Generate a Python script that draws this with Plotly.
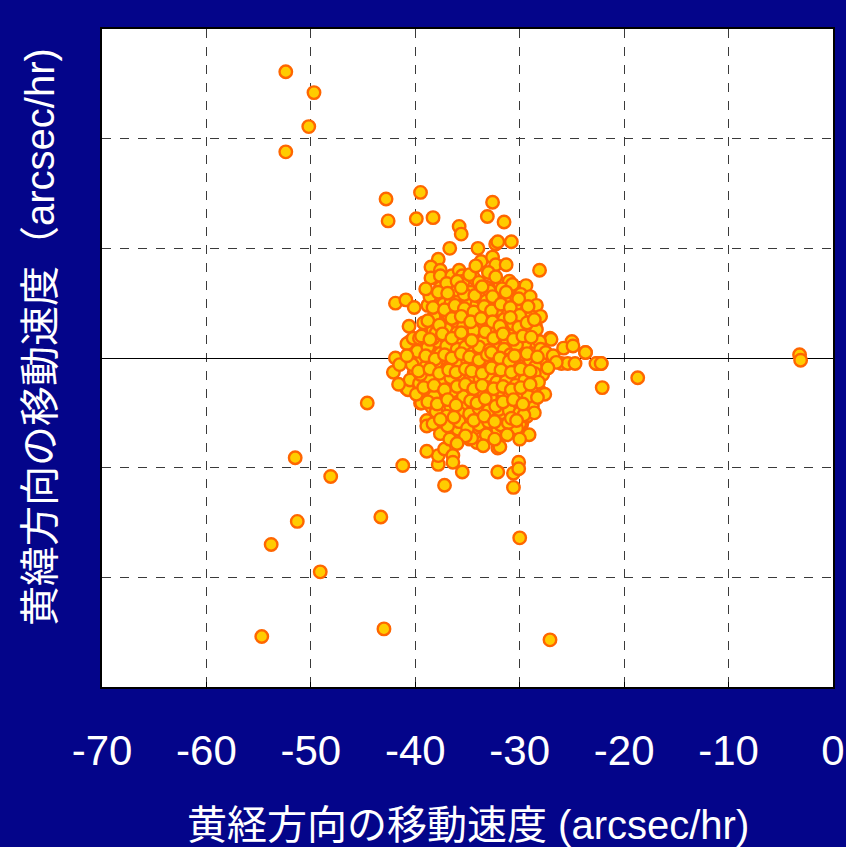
import plotly.graph_objects as go

# Ecliptic longitude / latitude motion (arcsec/hr)
x_outer = [-52.4, -49.7, -50.2, -52.4, -42.8, -39.5, -42.6, -39.9, -38.3, -35.8, -35.6, -32.6, -33.1, -31.5,
           -30.8, -32.3, -32.1, -36.7, -34.0, -28.1, -23.7, -22.6, -22.2, -22.1, -18.7, -3.2, -3.1,
           -44.6, -51.5, -48.1, -51.3, -53.8, -49.1, -43.3, -54.7, -43.0, -27.1, -30.0,
           -41.2, -37.2, -30.6, -30.6, -30.1, -32.1, -35.5, -37.8, -37.8, -37.2, -36.4, -36.4, -38.9,
           -32.1, -31.9, -30.1, -29.1]
y_outer = [26.1, 24.2, 21.1, 18.8, 14.5, 15.1, 12.5, 12.7, 12.8, 12.0, 11.3, 14.2, 12.9, 12.4,
           10.6, 10.4, 10.6, 10.0, 10.0, 8.0, 0.5, -0.5, -0.5, -2.7, -1.8, 0.3, -0.2,
           -4.1, -9.1, -10.8, -14.9, -17.0, -19.5, -14.5, -25.4, -24.7, -25.7, -16.4,
           -9.8, -11.6, -11.8, -10.5, -9.5, -10.4, -10.4, -9.7, -8.9, -8.3, -8.9, -9.5, -8.5,
           -8.2, -8.1, -10.1, -7.0]

x_mid = [-38.9, -38.9, -37.6, -36.7, -35.9, -34.8, -34.1, -34.3, -34.6, -32.6, -32.1, -31.4, -30.5, -29.8,
         -30.0, -30.3, -33.5, -32.8, -31.7, -30.6,
         -41.9, -40.9, -40.1, -40.6, -40.5, -40.8, -41.9, -42.1, -40.1, -39.4, -40.9, -40.7, -39.5, -38.6,
         -37.6, -36.7, -35.7, -39.4, -38.4, -37.4, -36.6, -35.2, -33.8, -32.6, -31.4, -30.2, -28.8, -31.2,
         -38.9, -37.8, -37.0, -36.1, -35.0, -34.1, -32.9, -31.7, -30.7, -29.7, -28.0, -27.6, -28.8, -27.8,
         -39.4, -38.4, -37.3, -36.2, -35.5, -34.6, -33.3, -32.3, -31.7, -30.6, -29.0, -30.0, -40.0, -39.1,
         -38.3, -37.2, -28.0, -28.7, -30.0, -31.9, -30.6,
         -39.3, -37.9, -36.7, -35.7, -34.1, -32.8, -31.6, -30.3, -28.7, -28.8,
         -27.1, -25.0, -27.0, -25.8, -24.9, -23.7, -22.7, -22.2, -26.0, -25.4, -24.7, -28.1,
         -33.7, -32.6, -32.3, -31.3, -37.8, -38.5, -37.6, -38.5, -37.6, -36.5, -35.8, -35.5, -35.4, -34.4,
         -33.0, -32.1, -33.3, -37.6, -31.9,
         -37.4, -37.3, -36.0, -35.0, -34.1, -33.5, -32.6, -31.4, -31.1, -30.3, -29.5,
         -38.1, -36.4, -35.5, -34.4, -33.2, -32.1, -30.9, -30.2, -29.1, -31.2,
         -38.3, -36.9, -36.2, -35.0, -33.8, -32.4, -31.4, -30.5, -29.3,
         -40.2, -38.3, -37.2, -35.9, -34.8]
y_mid = [-5.7, -6.2, -6.9, -7.4, -6.5, -7.4, -7.7, -6.4, -7.3, -6.5, -6.5, -6.4, -6.2, -6.0,
         -6.0, -6.4, -5.5, -5.4, -5.4, -5.4,
         5.0, 5.3, 4.6, 2.9, 1.5, 1.3, 0.0, -1.3, -1.3, -0.3, -2.7, -2.9, -4.1, -3.7,
         -3.9, -4.5, -3.7, -4.1, -4.5, -4.6, -4.5, -4.3, -4.1, -3.9, -4.1, -4.1, -4.3, -4.1,
         -2.8, -3.2, -3.2, -2.1, -2.8, -3.3, -2.4, -3.0, -3.3, -2.5, -3.1, -3.3, -4.4, -1.5,
         -0.2, 0.6, -0.5, 0.2, -0.7, -1.5, 0.0, 1.3, -1.2, -1.8, -1.0, 0.8, -1.2, -1.5,
         -1.5, -1.5, -0.3, 0.6, -1.8, -1.8, -0.5,
         1.1, 1.5, 1.5, 1.8, 2.0, 1.8, 2.3, 1.8, 1.5, 2.3,
         1.8, 1.5, 1.7, 0.9, 1.1, 0.5, -0.5, -0.5, -0.5, -0.5, -0.5, 1.5,
         8.8, 9.2, 8.5, 8.5, 9.0, 8.3, 8.0, 7.3, 7.5, 7.5, 8.0, 7.5, 7.0, 7.3,
         7.8, 6.9, 6.5, 6.4, 6.8,
         5.5, 4.9, 5.5, 5.3, 4.9, 4.5, 5.5, 5.9, 5.5, 5.5, 5.0,
         3.6, 4.3, 4.5, 3.6, 3.6, 3.7, 4.3, 3.7, 3.7, 4.3,
         2.6, 3.1, 3.4, 2.6, 2.7, 2.9, 2.5, 2.7, 2.5,
         1.8, 1.8, 2.0, 1.8, 2.0]

x_core = [-36.0, -34.7, -33.9, -32.9, -31.0, -30.2, -29.4, -35.3,
          -38.8, -37.8, -36.8, -35.9, -35.0, -34.0, -33.0, -32.2, -31.5, -30.6, -29.8, -28.9, -28.5,
          -39.2, -38.0, -37.0, -36.0, -35.4, -34.4, -33.5, -32.9, -32.0, -31.2, -30.0, -29.5, -28.4, -28.0,
          -39.8, -38.8, -37.6, -37.0, -36.0, -35.2, -34.5, -33.9, -32.9, -32.3, -31.5, -30.9, -30.3, -29.6,
          -29.0, -28.5, -27.5, -26.8, -26.5,
          -40.3, -39.0, -38.0, -36.8, -36.0, -35.0, -34.2, -33.6, -33.0, -32.2, -31.3, -30.2, -29.5, -28.6, -27.3,
          -40.5, -39.6, -38.6, -37.5, -36.6, -35.6, -34.8, -33.8, -33.0, -32.2, -31.3, -30.4, -29.5, -28.8, -28.2,
          -39.9, -38.2, -36.4, -35.4, -34.6, -33.5, -32.8, -31.0, -30.0, -29.2, -28.3,
          -38.0, -37.0, -35.8, -34.8, -33.9, -33.0, -32.0, -31.0, -30.0, -29.3, -28.6,
          -38.3, -36.9, -35.8, -35.0, -33.9, -33.0, -31.8, -31.1, -29.6,
          -35.2, -33.2, -32.4, -31.2, -30.0, -36.0, -33.5,
          -37.0, -36.0, -34.8, -33.9, -32.3, -31.7, -30.7, -29.9, -29.0, -28.4, -28.0,
          -38.6, -39.0, -36.6, -33.2, -32.0, -30.4,
          -41.6, -41.5, -40.8, -39.6, -39.5, -38.2, -37.8, -34.2]
y_core = [6.2, 6.0, 5.6, 6.1, 7.0, 6.3, 6.6, 5.8,
          4.8, 4.2, 3.9, 3.2, 4.0, 3.1, 4.0, 4.4, 3.5, 3.1, 4.4, 4.2, 3.0,
          3.2, 2.3, 2.6, 2.3, 2.9, 2.5, 1.5, 2.8, 1.9, 1.5, 2.2, 1.3, 2.6, 0.8,
          0.6, 1.0, 0.4, 1.1, 0.8, 1.0, 0.4, 1.0, 0.7, 0.1, 0.8, 0.3, 1.2, 0.3,
          -0.2, -0.8, 0.5, 0.2, -0.4,
          -0.6, -0.8, -0.4, -0.9, -0.4, -0.2, -0.8, -0.4, -1.1, -0.6, -0.2, -0.9, -1.6, -1.4, -0.9,
          -2.0, -2.3, -2.0, -2.3, -1.8, -1.5, -2.0, -1.9, -1.6, -2.2, -2.1, -2.5, -2.0, -2.6, -2.2,
          -3.3, -3.5, -3.0, -3.5, -2.7, -3.1, -3.6, -3.6, -3.1, -3.5, -3.6,
          -4.9, -5.3, -5.0, -5.1, -4.6, -4.8, -4.7, -4.8, -5.0, -5.3, -5.0,
          -6.0, -6.2, -5.8, -6.4, -6.1, -5.8, -6.1, -5.9, -5.2,
          -7.1, -7.0, -7.4, -7.0, -7.4, -7.8, -8.0,
          6.8, 7.0, 7.6, 6.9, 7.4, 6.3, 6.7, 5.8, 5.6, 4.8, 3.8,
          5.6, 6.3, 5.0, 5.2, 5.1, 4.8,
          -2.4, -0.6, 0.2, 1.8, -1.5, 3.8, 6.0, 8.4]

x_dense = [-36.9, -35.6, -34.3, -33.6, -32.6, -31.3, -30.1,
           -38.3, -37.2, -36.2, -35.3, -34.4, -33.4, -32.7, -31.8, -30.9, -30.0, -29.2,
           -38.8, -37.7, -36.5, -35.6, -34.7, -33.7, -32.6, -31.9, -30.9, -30.1, -29.3, -28.6,
           -39.4, -38.6, -37.4, -36.5, -35.6, -34.6, -33.3, -32.5, -31.6, -30.6, -29.7, -28.9,
           -39.0, -38.1, -37.2, -36.5, -35.6, -34.8, -33.9, -33.1, -32.7, -31.9, -31.0, -30.5, -29.3, -28.3,
           -39.7, -38.6, -37.7, -36.8, -36.1, -35.2, -34.6, -33.6, -32.7, -31.8, -30.8, -29.9, -29.0,
           -39.2, -38.2, -37.2, -36.0, -35.2, -34.4, -33.6, -32.5, -31.6, -30.8, -29.9, -29.0,
           -38.8, -37.9, -36.9, -36.1, -34.7, -34.1, -33.3, -32.3, -31.6, -30.6, -29.7,
           -37.6, -36.3, -34.4, -33.4, -32.4, -30.8, -30.3]
y_dense = [5.9, 6.4, 5.7, 6.5, 5.6, 6.0, 5.4,
           4.6, 4.4, 4.8, 4.5, 4.2, 4.7, 4.3, 4.9, 4.6, 3.9, 4.7,
           3.4, 3.0, 3.6, 3.8, 3.3, 3.6, 3.3, 2.9, 3.7, 2.8, 3.2, 3.5,
           2.0, 1.7, 2.2, 1.8, 2.3, 1.6, 2.4, 1.8, 2.2, 1.7, 2.0, 1.9,
           0.2, -0.1, 0.3, 0.0, 0.4, 0.1, -0.2, 0.3, 0.5, 0.0, -0.3, 0.2, 0.4, 0.1,
           -1.2, -1.0, -1.4, -1.1, -1.3, -1.0, -1.2, -1.4, -0.9, -1.1, -1.3, -1.0, -1.2,
           -2.7, -2.5, -2.9, -2.6, -2.4, -2.8, -2.5, -2.8, -2.6, -2.9, -2.7, -2.4,
           -4.0, -4.2, -3.8, -4.3, -3.9, -4.1, -3.7, -4.4, -4.0, -3.8, -4.2,
           -5.6, -5.4, -5.7, -5.3, -5.8, -5.5, -5.7]

x_vals = x_outer + x_mid + x_core + x_dense
y_vals = y_outer + y_mid + y_core + y_dense

x_ticks = [-70, -60, -50, -40, -30, -20, -10, 0]
x_tick_labels = ["-70", "-60", "-50", "-40", "-30", "-20", "-10", "0"]
y_ticks = [-30, -20, -10, 0, 10, 20, 30]

x_title = "黄経方向の移動速度 (arcsec/hr)"
y_title = "黄緯方向の移動速度（arcsec/hr)"

FONT = "Liberation Sans Narrow, Arial Narrow, Liberation Sans, Noto Sans CJK JP, sans-serif"

W, H = 846, 847
ML, MR, MT, MB = 102, 13, 29, 160

fig = go.Figure()
fig.add_trace(go.Scatter(
    x=x_vals, y=y_vals, mode="markers",
    marker=dict(size=12.5, color="#FFCC00", line=dict(color="#FF6600", width=2.4)),
    showlegend=False, cliponaxis=False,
))

fig.update_layout(
    width=W, height=H, autosize=False,
    paper_bgcolor="#04058A",
    plot_bgcolor="white",
    margin=dict(l=ML, r=MR, t=MT, b=MB, autoexpand=False),
    font=dict(family=FONT, color="white"),
    xaxis=dict(
        range=[-70, 0], tickvals=x_ticks, ticktext=x_tick_labels,
        showgrid=True, gridcolor="#3a3a3a", griddash="dash", gridwidth=1,
        ticks="inside", ticklen=5, tickcolor="black",
        tickfont=dict(size=42, color="white", family=FONT), ticklabelstandoff=26,
        showline=True, linecolor="black", linewidth=2, mirror=True,
        zeroline=False,
    ),
    yaxis=dict(
        range=[-30, 30], tickvals=y_ticks, showticklabels=False,
        showgrid=True, gridcolor="#3a3a3a", griddash="dash", gridwidth=1,
        zeroline=True, zerolinecolor="black", zerolinewidth=1,
        showline=True, linecolor="black", linewidth=2, mirror=True,
    ),
    annotations=[
        dict(text=x_title, x=468, y=825, xref="paper", yref="paper",
             xanchor="center", yanchor="middle", showarrow=False,
             font=dict(size=40, color="white", family=FONT)),
        dict(text=y_title, x=40, y=337, xref="paper", yref="paper",
             xanchor="center", yanchor="middle", showarrow=False, textangle=-90,
             font=dict(size=40, color="white", family=FONT)),
    ],
)

# convert pixel anchor positions of the titles to paper fractions
pw, ph = W - ML - MR, H - MT - MB
for ann in fig.layout.annotations:
    ann.x = (ann.x - ML) / pw
    ann.y = (H - MB - ann.y) / ph

post = ("document.body.style.margin='0';document.body.style.overflow='hidden';"
        "var gd=document.getElementById('{plot_id}');"
        "Plotly.relayout(gd,{width:846,height:847});")

fig.write_html("out.html", config={"displayModeBar": False, "responsive": False},
               post_script=post)
